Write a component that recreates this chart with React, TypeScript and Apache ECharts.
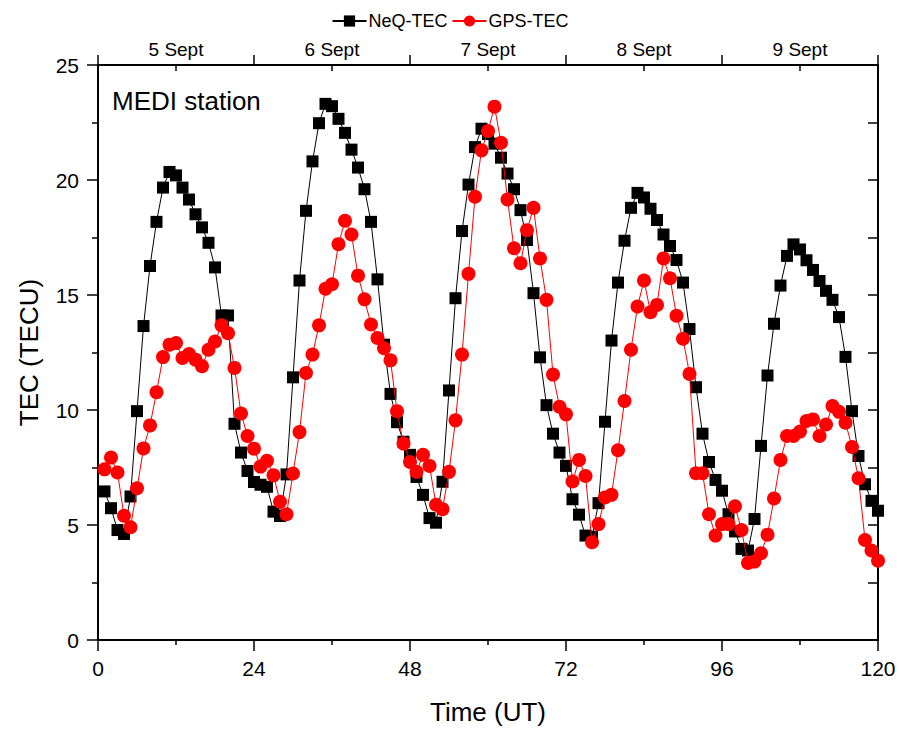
import React, { useEffect, useRef } from "react";
import * as echarts from "echarts";

// Hours (UT) since start of 5 Sept
const hours: number[] = Array.from({ length: 120 }, (_, i) => i + 1);

const neqTec: number[] = [
  6.46, 5.73, 4.78, 4.61, 6.24, 9.95, 13.65, 16.26, 18.18, 19.67, 20.35, 20.2,
  19.67, 19.15, 18.51, 17.94, 17.27, 16.2, 14.11, 14.11, 9.4, 8.15, 7.35, 6.87,
  6.75, 6.66, 5.58, 5.39, 7.2, 11.42, 15.63, 18.66, 20.81, 22.47, 23.31, 23.21,
  22.66, 22.05, 21.32, 20.54, 19.6, 18.18, 15.68, 12.84, 10.7, 9.47, 8.62, 8.05,
  7.09, 6.31, 5.3, 5.1, 6.88, 10.85, 14.86, 17.78, 19.8, 21.43, 22.23, 22.0,
  21.58, 20.97, 20.28, 19.6, 18.69, 17.39, 15.08, 12.29, 10.21, 8.97, 8.15, 7.57,
  6.12, 5.45, 4.54, 4.49, 5.95, 9.49, 13.02, 15.54, 17.36, 18.79, 19.44, 19.24,
  18.75, 18.26, 17.63, 17.13, 16.52, 15.54, 13.52, 10.99, 8.97, 7.74, 6.96, 6.49,
  5.47, 4.72, 3.96, 3.89, 5.26, 8.44, 11.5, 13.75, 15.41, 16.7, 17.2, 16.98,
  16.51, 16.09, 15.61, 15.18, 14.79, 14.04, 12.31, 9.95, 8.0, 6.77, 6.05, 5.62,
];

const gpsTec: number[] = [
  7.42, 7.93, 7.28, 5.4, 4.9, 6.6, 8.33, 9.33, 10.77, 12.3, 12.84, 12.91,
  12.26, 12.43, 12.19, 11.9, 12.62, 12.98, 13.68, 13.34, 11.83, 9.85, 8.87, 8.32,
  7.54, 7.79, 7.16, 6.01, 5.47, 7.24, 9.04, 11.61, 12.41, 13.68, 15.27, 15.47,
  17.21, 18.23, 17.63, 15.84, 14.81, 13.72, 13.13, 12.69, 12.16, 9.95, 8.54, 7.74,
  7.31, 8.05, 7.57, 5.88, 5.69, 7.31, 9.55, 12.41, 15.92, 19.27, 21.29, 22.13,
  23.19, 21.62, 19.15, 17.03, 16.38, 17.82, 18.79, 16.59, 14.79, 11.54, 10.14, 9.81,
  6.89, 7.83, 7.13, 4.25, 5.04, 6.2, 6.31, 8.25, 10.39, 12.62, 14.5, 15.63,
  14.25, 14.57, 16.59, 15.73, 14.1, 13.1, 11.57, 7.25, 7.25, 5.47, 4.54, 5.04,
  5.04, 5.81, 4.78, 3.35, 3.41, 3.77, 4.58, 6.15, 7.83, 8.87, 8.87, 9.06,
  9.52, 9.59, 8.87, 9.37, 10.17, 9.92, 9.45, 8.39, 7.03, 4.35, 3.89, 3.45,
];

const dayLabelPositions: number[] = [12, 36, 60, 84, 108];
const dayLabels: string[] = ["5 Sept", "6 Sept", "7 Sept", "8 Sept", "9 Sept"];

const FONT = "Liberation Sans, Arial, sans-serif";

const mkLine = () => ({ show: true, onZero: false, lineStyle: { color: "#000", width: 2 } });
const mkTick = (inside: boolean, length: number) => ({
  show: true,
  inside,
  length,
  lineStyle: { color: "#000", width: 1.5 },
});

export default function App() {
  const ref = useRef<HTMLDivElement>(null);

  useEffect(() => {
    if (!ref.current) return;
    const chart = echarts.init(ref.current, null, { renderer: "svg" });

    const option: any = {
      animation: false,
      backgroundColor: "#fff",
      textStyle: { fontFamily: FONT, color: "#000" },
      title: {
        text: "MEDI station",
        left: 107,
        top: 83,
        textStyle: { fontFamily: FONT, fontSize: 26, fontWeight: "normal", color: "#000" },
      },
      legend: {
        top: 7,
        left: "center",
        itemWidth: 34,
        itemHeight: 14,
        itemGap: 4,
        textStyle: { fontFamily: FONT, fontSize: 18, color: "#000", padding: [0, 0, 0, -3] },
        data: ["NeQ-TEC", "GPS-TEC"],
      },
      grid: { left: 98, right: 22, top: 65, bottom: 87, containLabel: false },
      xAxis: [
        {
          type: "value",
          position: "bottom",
          min: 0,
          max: 120,
          interval: 24,
          axisLine: mkLine(),
          axisTick: mkTick(false, 11),
          minorTick: { show: true, splitNumber: 2, length: 5, lineStyle: { color: "#000", width: 1.5 } },
          splitLine: { show: false },
          axisLabel: { fontFamily: FONT, fontSize: 21, color: "#000", margin: 18 },
          name: "Time (UT)",
          nameLocation: "middle",
          nameGap: 59,
          nameTextStyle: { fontFamily: FONT, fontSize: 26, color: "#000" },
        },
        {
          type: "value",
          position: "top",
          min: 0,
          max: 120,
          interval: 24,
          axisLine: mkLine(),
          axisTick: mkTick(false, 10),
          axisLabel: { show: false },
          splitLine: { show: false },
        },
        {
          type: "value",
          position: "top",
          min: 0,
          max: 120,
          interval: 12,
          axisLine: { show: false, onZero: false },
          axisTick: {
            show: true,
            inside: true,
            length: 6,
            customValues: dayLabelPositions,
            lineStyle: { color: "#000", width: 1.5 },
          },
          axisLabel: {
            show: true,
            customValues: dayLabelPositions,
            fontFamily: FONT,
            fontSize: 19,
            color: "#000",
            margin: 6,
            formatter: (v: number) => {
              const i = dayLabelPositions.indexOf(v);
              return i >= 0 ? dayLabels[i] : "";
            },
          },
          splitLine: { show: false },
        },
      ],
      yAxis: [
        {
          type: "value",
          position: "left",
          min: 0,
          max: 25,
          interval: 5,
          axisLine: mkLine(),
          axisTick: mkTick(false, 11),
          minorTick: { show: true, splitNumber: 2, length: 6, lineStyle: { color: "#000", width: 1.5 } },
          splitLine: { show: false },
          axisLabel: { fontFamily: FONT, fontSize: 21, color: "#000", margin: 19 },
          name: "TEC (TECU)",
          nameLocation: "middle",
          nameGap: 56,
          nameTextStyle: { fontFamily: FONT, fontSize: 26, color: "#000" },
        },
        {
          type: "value",
          position: "right",
          min: 0,
          max: 25,
          interval: 5,
          axisLine: mkLine(),
          axisTick: mkTick(true, 10),
          minorTick: { show: true, splitNumber: 2, length: 10, lineStyle: { color: "#000", width: 1.5 } },
          axisLabel: { show: false },
          splitLine: { show: false },
        },
      ],
      series: [
        {
          name: "NeQ-TEC",
          type: "line",
          xAxisIndex: 0,
          yAxisIndex: 0,
          data: hours.map((h, i) => [h, neqTec[i]]),
          symbol: "rect",
          symbolSize: 12,
          showAllSymbol: true,
          itemStyle: { color: "#000" },
          lineStyle: { color: "#000", width: 1 },
          z: 2,
        },
        {
          name: "GPS-TEC",
          type: "line",
          xAxisIndex: 0,
          yAxisIndex: 0,
          data: hours.map((h, i) => [h, gpsTec[i]]),
          symbol: "circle",
          symbolSize: 14,
          showAllSymbol: true,
          itemStyle: { color: "#ff0000" },
          lineStyle: { color: "#ff0000", width: 1 },
          z: 3,
        },
      ],
    };

    chart.setOption(option);
    return () => chart.dispose();
  }, []);

  return (
    <div
      ref={ref}
      style={{ position: "fixed", left: 0, top: 0, width: 900, height: 730, background: "#fff" }}
    />
  );
}
